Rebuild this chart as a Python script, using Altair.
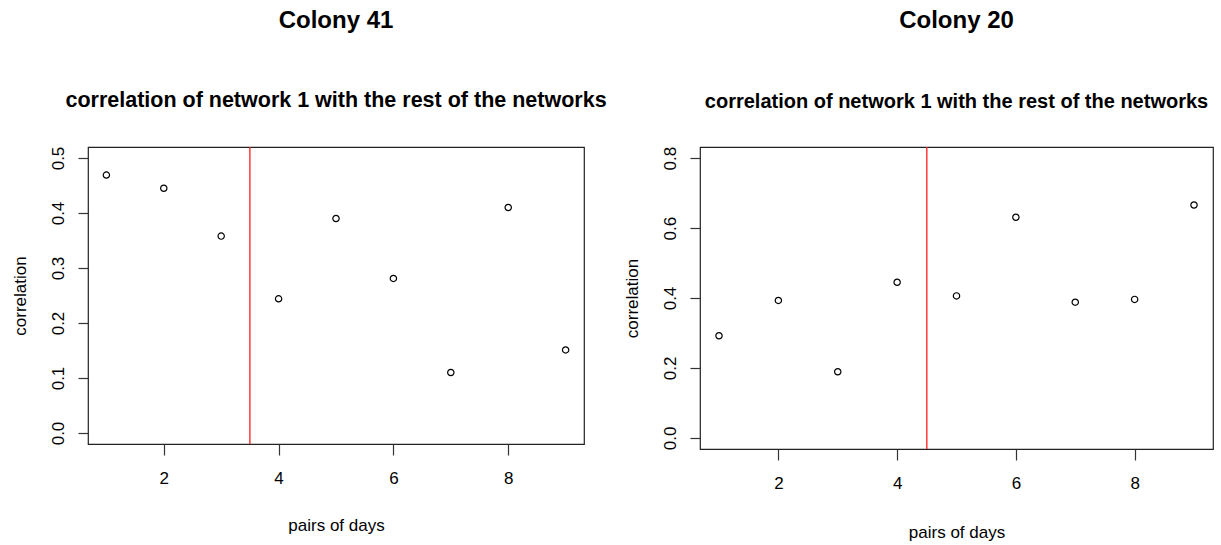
import altair as alt
import pandas as pd

# ---- data ----
days = [1, 2, 3, 4, 5, 6, 7, 8, 9]
corr_41 = [0.469, 0.445, 0.358, 0.244, 0.390, 0.281, 0.110, 0.410, 0.151]
corr_20 = [0.292, 0.393, 0.189, 0.445, 0.406, 0.631, 0.388, 0.396, 0.666]
split_41 = [3.5]
split_20 = [4.5]
x_ticks = [2, 4, 6, 8]
y_ticks_41 = [0.0, 0.1, 0.2, 0.3, 0.4, 0.5]
y_ticks_20 = [0.0, 0.2, 0.4, 0.6, 0.8]
subtitle = "correlation of network 1 with the rest of the networks"

FONT = "Liberation Sans"


def panel(values, split, yticks, ydomain, colony, w, h, sub_size, sub_pad, offset, xlab_pad, xtitle_pad):
    df = pd.DataFrame({"day": days, "corr": values})
    rule_df = pd.DataFrame({"day": split})
    x = alt.X(
        "day:Q",
        scale=alt.Scale(domain=[0.68, 9.32], nice=False, zero=False),
        axis=alt.Axis(values=x_ticks, title="pairs of days", format="d",
                      labelPadding=xlab_pad, titlePadding=xtitle_pad),
    )
    y = alt.Y(
        "corr:Q",
        scale=alt.Scale(domain=ydomain, nice=False, zero=False),
        axis=alt.Axis(
            values=yticks,
            title="correlation",
            format=".1f",
            labelAngle=270,
            labelAlign="center",
            labelBaseline="bottom",
        ),
    )
    pts = (
        alt.Chart(df)
        .mark_point(shape="circle", filled=False, color="black", size=40, strokeWidth=1.2, opacity=1)
        .encode(x=x, y=y)
    )
    rule = (
        alt.Chart(rule_df)
        .mark_rule(color="#ff2a2a", strokeWidth=1.4)
        .encode(x=x)
    )
    return alt.layer(rule, pts).properties(
        width=w,
        height=h,
        title=alt.TitleParams(
            text=colony,
            subtitle=subtitle,
            anchor="middle",
            font=FONT,
            fontSize=24,
            fontWeight="bold",
            color="black",
            subtitleFont=FONT,
            subtitleFontSize=sub_size,
            subtitleFontWeight="bold",
            subtitleColor="black",
            subtitlePadding=sub_pad,
            offset=offset,
        ),
    )


left = panel(corr_41, split_41, y_ticks_41, [-0.02, 0.52], "Colony 41", 496, 297,
             21.5, 57, 34.5, 15, 31)
right = panel(corr_20, split_20, y_ticks_20, [-0.032, 0.832], "Colony 20", 513, 302,
              20, 59, 34, 15, 33)

chart = (
    alt.hconcat(left, right, spacing=116, bounds="flush")
    .properties(padding={"left": 10, "top": 8, "right": 0, "bottom": 0})
    .configure_view(stroke="#222222", strokeWidth=1.2)
    .configure_axis(
        grid=False,
        domain=False,
        tickColor="#333333",
        tickWidth=1.2,
        labelFont=FONT,
        labelFontSize=17,
        labelColor="black",
        titleFont=FONT,
        titleFontSize=17,
        titleFontWeight="normal",
        titleColor="black",
    )
    .configure_axisBottom(tickSize=11)
    .configure_axisLeft(tickSize=10, labelPadding=11, titlePadding=20)
)

chart.save("out.html", embed_options={"renderer": "svg", "actions": False})
